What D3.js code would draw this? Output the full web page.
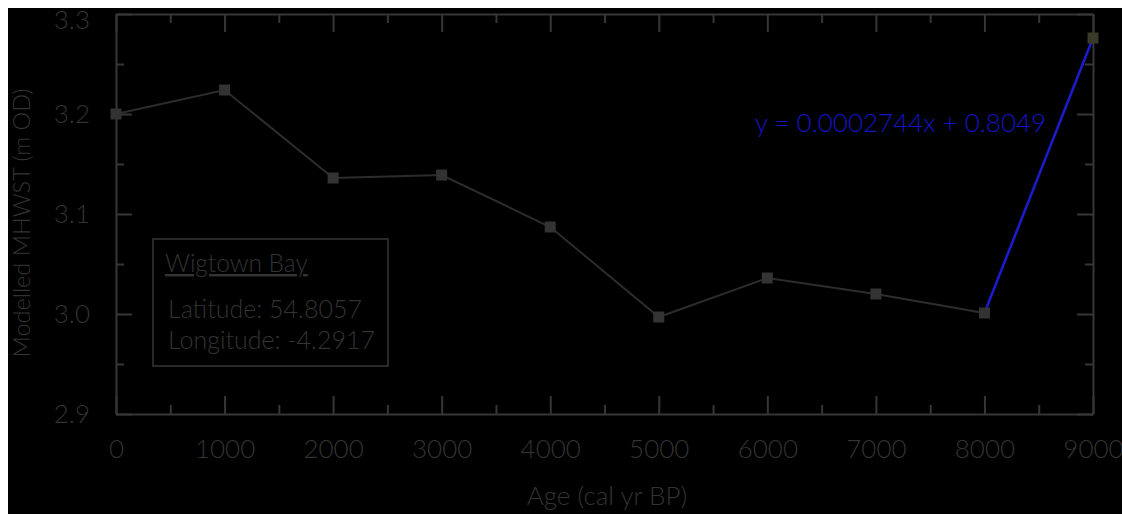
<!DOCTYPE html>
<html>
<head>
<meta charset="utf-8">
<script src="https://cdn.jsdelivr.net/npm/d3@7"></script>
<style>
  html, body { margin: 0; padding: 0; background: #fff; overflow: hidden; }
  text { font-family: Lato, "Open Sans", sans-serif; font-weight: 300; }
</style>
</head>
<body>
<svg id="chart" width="1122" height="514"></svg>
<script>
const ages = [0, 1000, 2000, 3000, 4000, 5000, 6000, 7000, 8000, 9000];
const mhwst = [3.200, 3.224, 3.136, 3.139, 3.087, 2.997, 3.036, 3.020, 3.001, 3.276];
const fitAges = [8000, 9000];
const fitValues = [3.001, 3.276];
const xTicks = [0, 1000, 2000, 3000, 4000, 5000, 6000, 7000, 8000, 9000];
const yTicks = [2.9, 3.0, 3.1, 3.2, 3.3];
const equationText = "y = 0.0002744x + 0.8049";
const siteName = "Wigtown Bay";
const siteLines = ["Latitude: 54.8057", "Longitude: -4.2917"];

(function () {
const svg = d3.select("#chart");
const W = 1122, H = 514;
const mLeft = 116, mRight = 1093, mTop = 14, mBottom = 414;
const axisColor = "#363636", textColor = "#333333";

svg.append("rect").attr("x", 8).attr("y", 8).attr("width", W - 8).attr("height", H - 8).attr("fill", "#000");

const x = d3.scaleLinear().domain([0, 9000]).range([mLeft, mRight]);
const y = d3.scaleLinear().domain([2.9, 3.3]).range([mBottom, mTop]);

const xMinor = d3.range(500, 9000, 1000);
const yMinor = [2.95, 3.05, 3.15, 3.25];

function styleAxis(g) {
  g.select(".domain").attr("stroke", axisColor).attr("stroke-width", 2);
  g.selectAll(".tick line").attr("stroke", axisColor).attr("stroke-width", 2);
  g.selectAll(".tick text").attr("fill", textColor).style("font-size", "26px");
}
function minorStyle(g) {
  g.select(".domain").remove();
  g.selectAll("line").attr("stroke", axisColor).attr("stroke-width", 2);
}

const gB = svg.append("g").attr("transform", `translate(0,${mBottom})`)
  .call(d3.axisBottom(x).tickValues(xTicks).tickSize(-18).tickSizeOuter(0).tickPadding(26).tickFormat(d3.format("d")));
styleAxis(gB);
svg.append("g").attr("transform", `translate(0,${mBottom})`)
  .call(d3.axisBottom(x).tickValues(xMinor).tickSize(-9).tickSizeOuter(0).tickFormat(""))
  .call(minorStyle);

const gT = svg.append("g").attr("transform", `translate(0,${mTop})`)
  .call(d3.axisTop(x).tickValues(xTicks).tickSize(-18).tickSizeOuter(0).tickFormat(""));
styleAxis(gT);
svg.append("g").attr("transform", `translate(0,${mTop})`)
  .call(d3.axisTop(x).tickValues(xMinor).tickSize(-9).tickSizeOuter(0).tickFormat(""))
  .call(minorStyle);

const gL = svg.append("g").attr("transform", `translate(${mLeft},0)`)
  .call(d3.axisLeft(y).tickValues(yTicks).tickSize(-16).tickSizeOuter(0).tickPadding(26).tickFormat(d3.format(".1f")));
styleAxis(gL);
gL.selectAll(".tick").filter(d => d === 3.3).select("text").attr("y", 6);
svg.append("g").attr("transform", `translate(${mLeft},0)`)
  .call(d3.axisLeft(y).tickValues(yMinor).tickSize(-8).tickSizeOuter(0).tickFormat(""))
  .call(minorStyle);

const gR = svg.append("g").attr("transform", `translate(${mRight},0)`)
  .call(d3.axisRight(y).tickValues(yTicks).tickSize(-16).tickSizeOuter(0).tickFormat(""));
styleAxis(gR);
svg.append("g").attr("transform", `translate(${mRight},0)`)
  .call(d3.axisRight(y).tickValues(yMinor).tickSize(-8).tickSizeOuter(0).tickFormat(""))
  .call(minorStyle);

const pts = ages.map((a, i) => [a, mhwst[i]]);
const line = d3.line().x(d => x(d[0])).y(d => y(d[1]));
svg.append("path").datum(pts).attr("d", line).attr("fill", "none").attr("stroke", "#2c2c2c").attr("stroke-width", 2);

const fitPts = fitAges.map((a, i) => [a, fitValues[i]]);
svg.append("path").datum(fitPts).attr("d", line).attr("fill", "none").attr("stroke", "#1a1ad0").attr("stroke-width", 2.5);

svg.append("g").selectAll("rect").data(pts).join("rect")
  .attr("x", d => x(d[0]) - 5.5).attr("y", d => y(d[1]) - 5.5)
  .attr("width", 11).attr("height", 11)
  .attr("fill", (d, i) => i === pts.length - 1 ? "#3a3a2a" : "#333333");

svg.append("text").attr("x", 755).attr("y", 132).attr("fill", "#1414c8")
  .style("font-size", "26px").text(equationText);

svg.append("rect").attr("x", 153).attr("y", 239).attr("width", 235).attr("height", 127)
  .attr("fill", "none").attr("stroke", axisColor).attr("stroke-width", 1.5);
svg.append("text").attr("x", 165).attr("y", 272).attr("fill", textColor)
  .style("font-size", "24.5px").style("text-decoration", "underline").text(siteName);
svg.selectAll(".siteLine").data(siteLines).join("text").attr("class", "siteLine")
  .attr("x", 168).attr("y", (d, i) => 318 + i * 31).attr("fill", textColor)
  .style("font-size", "25px").text(d => d);

svg.append("text").attr("transform", `translate(30,223) rotate(-90)`)
  .attr("text-anchor", "middle").attr("fill", textColor).style("font-size", "23.5px")
  .text("Modelled MHWST (m OD)");
svg.append("text").attr("x", 607).attr("y", 505).attr("text-anchor", "middle")
  .attr("fill", textColor).style("font-size", "26px").text("Age (cal yr BP)");
})();
</script>
</body>
</html>
